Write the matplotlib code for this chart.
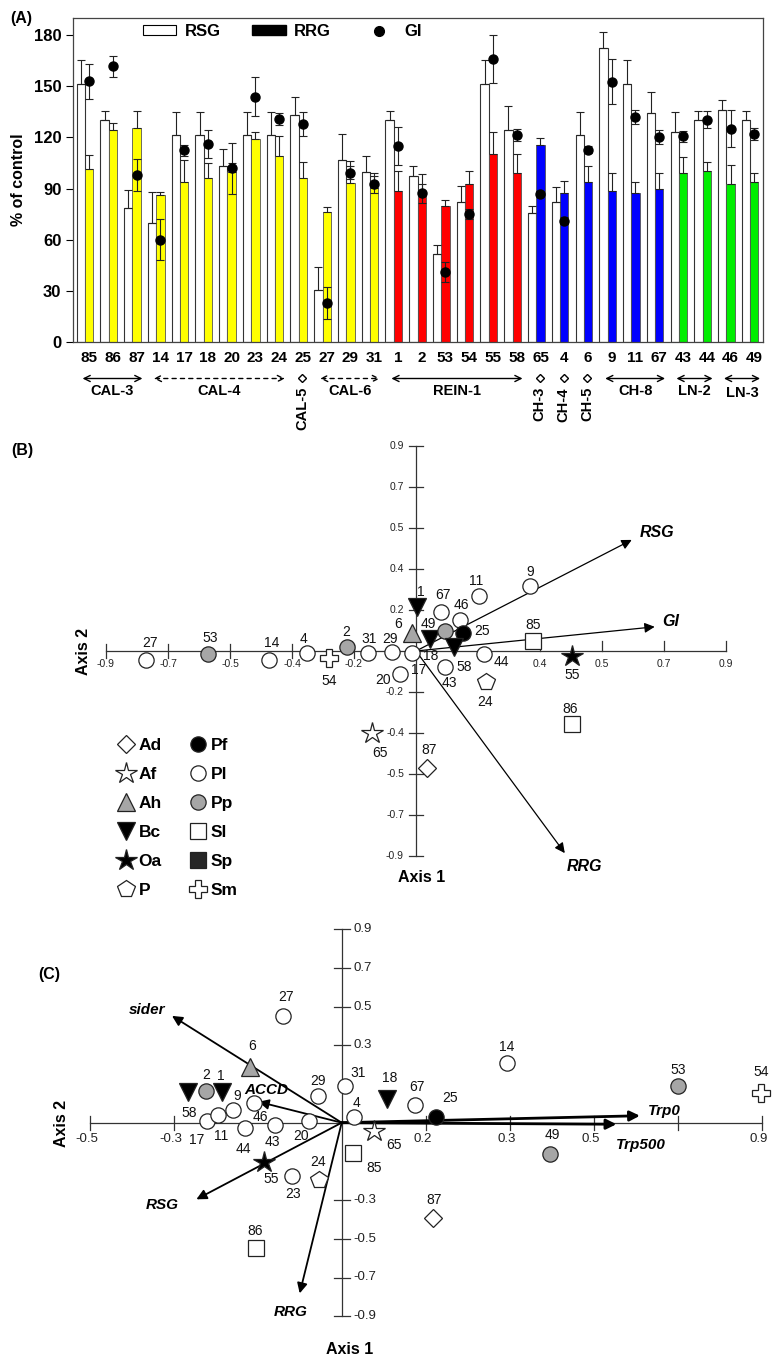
import numpy as np
import matplotlib
matplotlib.use("Agg")
import matplotlib.pyplot as plt
from matplotlib.patches import Patch
from matplotlib.lines import Line2D
from matplotlib import transforms

plt.rcParams["font.family"] = ["Liberation Sans", "DejaVu Sans"]

W, H = 780, 1368

# ---------------- panel A data ----------------
isolates = ["85", "86", "87", "14", "17", "18", "20", "23", "24", "25", "27", "29", "31",
            "1", "2", "53", "54", "55", "58", "65", "4", "6", "9", "11", "67", "43", "44", "46", "49"]
rsg = [151.6, 130, 78.8, 69.6, 121.2, 121.2, 103.3, 121.2, 121.2, 133.3, 30.4, 106.9, 99.8,
       130.4, 97.5, 51.6, 82, 151.6, 124.5, 75.5, 82, 121.2, 172.6, 151.6, 134.3,
       123, 130.4, 136.3, 130.4]
rsg_err = [13.7, 5.3, 10.4, 18.6, 13.7, 13.7, 10, 13.7, 13.7, 10.4, 13.4, 15.3, 9.4,
           4.9, 5.5, 5.3, 9.2, 13.7, 13.8, 4.5, 8.8, 13.7, 9.2, 13.7, 12.2,
           11.7, 4.9, 5.9, 4.9]
rrg = [101.4, 124.1, 125.5, 86.1, 93.7, 96.1, 99.8, 119, 109.2, 96.1, 76.1, 93.5, 90.2,
       88.6, 87.3, 79.8, 92.6, 110.2, 99, 115.3, 87.3, 93.7, 88.6, 87.3, 89.8,
       99, 100, 92.6, 93.7]
rrg_err = [8.4, 4.3, 9.8, 1.6, 12.8, 8.8, 5.2, 4.3, 11.8, 9.4, 3.3, 12.4, 8.8,
           11.4, 11.3, 3.5, 7.8, 13, 11.2, 4.3, 7.4, 9.6, 10.8, 6.4, 9.6,
           9.8, 5.5, 11.3, 5.7]
gi = [153, 161.8, 98, 59.8, 112.4, 116.1, 102, 143.9, 130.8, 127.9, 22.6, 99.4, 92.6,
      115.1, 87.3, 41.2, 74.9, 166.1, 121.6, 86.9, 71, 112.8, 152.8, 132, 120,
      120.6, 130.4, 125.1, 122]
gi_err = [10.4, 6, 9.3, 12, 3.2, 8.1, 15, 11.5, 3.4, 7.2, 9.3, 3.6, 5,
          11.1, 5.6, 5.9, 3, 14.2, 3.5, 1.5, 2, 2, 13.2, 4, 4.1,
          3, 4.9, 11, 3.4]
bar_colors = ["#ffff00"] * 13 + ["#ff0000"] * 6 + ["#0000ff"] * 6 + ["#00ee00"] * 4

# strain groups under the x axis
group_names = ["CAL-3", "CAL-4", "CAL-5", "CAL-6", "REIN-1", "CH-3", "CH-4", "CH-5",
               "CH-8", "LN-2", "LN-3"]
group_sizes = [3, 6, 1, 3, 6, 1, 1, 1, 3, 2, 2]
dashed_groups = ["CAL-4", "CAL-6"]

# ---------------- species / markers ----------------
species = {"85": "Sl", "86": "Sl", "87": "Ad", "14": "Pl", "17": "Pl", "18": "Bc", "20": "Pl",
           "23": "Pl", "24": "P", "25": "Pf", "27": "Pl", "29": "Pl", "31": "Pl", "1": "Bc",
           "2": "Pp", "53": "Pp", "54": "Sm", "55": "Oa", "58": "Bc", "65": "Af", "4": "Pl",
           "6": "Ah", "9": "Pl", "11": "Pl", "67": "Pl", "43": "Pl", "44": "Pl", "46": "Pl",
           "49": "Pp"}
legend_order = ["Ad", "Af", "Ah", "Bc", "Oa", "P", "Pf", "Pl", "Pp", "Sl", "Sp", "Sm"]

# ---------------- panel B data (positions in tick steps) ----------------
b_ids = ["27", "53", "14", "4", "54", "2", "31", "29", "20", "65", "6", "1", "17", "18",
         "49", "67", "46", "25", "11", "9", "58", "43", "44", "24", "85", "55", "86", "87"]
b_x = [-4.36, -3.35, -2.37, -1.76, -1.40, -1.12, -0.78, -0.39, -0.26, -0.71, -0.06, 0.02, -0.06,
       0.23, 0.46, 0.40, 0.71, 0.75, 1.02, 1.84, 0.61, 0.46, 1.09, 1.13, 1.88, 2.52, 2.51, 0.17]
b_y = [-0.22, -0.07, -0.22, -0.04, -0.18, 0.09, -0.06, -0.02, -0.57, -2.00, 0.45, 1.08, -0.04,
       0.29, 0.49, 0.94, 0.76, 0.43, 1.33, 1.59, 0.09, -0.38, -0.07, -0.75, 0.25, -0.11, -1.79, -2.85]
b_vec_names = ["RSG", "GI", "RRG"]
b_vec_x = [3.48, 3.85, 2.40]
b_vec_y = [2.71, 0.59, -4.93]
b_xtick_pos = [-5, -4, -3, -2, -1, 2, 3, 4, 5]
b_xtick_lab = ["-0.9", "-0.7", "-0.5", "-0.4", "-0.2", "0.4", "0.5", "0.7", "0.9"]
b_ytick_pos = [5, 4, 3, 2, 1, -1, -2, -3, -4, -5]
b_ytick_lab = ["0.9", "0.7", "0.5", "0.4", "0.2", "-0.2", "-0.4", "-0.5", "-0.7", "-0.9"]

# ---------------- panel C data (positions in tick steps) ----------------
c_ids = ["27", "6", "2", "58", "1", "9", "17", "11", "44", "46", "43", "20", "29", "31", "4",
         "65", "85", "55", "23", "24", "18", "67", "25", "14", "53", "54", "49", "86", "87"]
c_x = [-0.70, -1.09, -1.61, -1.83, -1.42, -1.29, -1.60, -1.47, -1.15, -1.04, -0.79, -0.39, -0.28,
       0.04, 0.15, 0.38, 0.13, -0.92, -0.59, -0.27, 0.54, 0.87, 1.12, 1.97, 4.00, 4.99, 2.48,
       -1.02, 1.09]
c_y = [2.76, 1.43, 0.83, 0.80, 0.80, 0.33, 0.04, 0.20, -0.13, 0.50, -0.06, 0.04, 0.70, 0.95,
       0.16, -0.21, -0.78, -1.02, -1.37, -1.48, 0.60, 0.46, 0.16, 1.55, 0.95, 0.78, -0.81,
       -3.25, -2.45]
c_vec_names = ["sider", "ACCD", "RSG", "RRG", "Trp0", "Trp500"]
c_vec_x = [-2.02, -0.99, -1.73, -0.50, 3.55, 3.27]
c_vec_y = [2.76, 0.54, -1.98, -4.41, 0.18, -0.04]
c_xtick_pos = [-3, -2, 1, 2, 3, 4, 5]
c_xtick_lab = ["-0.5", "-0.3", "0.2", "0.3", "0.5", "", "0.9"]
c_ytick_pos = [5, 4, 3, 2, -2, -3, -4, -5]
c_ytick_lab = ["0.9", "0.7", "0.5", "0.3", "-0.3", "-0.5", "-0.7", "-0.9"]

# label offsets (pixels) for the point numbers and vector names
b_lab_off = {"27": (4, 17), "53": (2, 16), "14": (3, 17), "4": (-3, 14), "54": (0, -23),
             "2": (0, 15), "31": (1, 14), "29": (-2, 13), "20": (-17, -6), "65": (8, -20),
             "6": (-14, 9), "1": (4, 15), "17": (6, -17), "18": (0, -17), "49": (-16, 7),
             "67": (2, 17), "46": (1, 15), "25": (20, 2), "11": (-3, 15), "9": (0, 14),
             "58": (10, -20), "43": (5, -16), "44": (18, -8), "24": (-1, -20), "85": (1, 16),
             "55": (0, -19), "86": (-1, 15), "87": (3, 18)}
c_lab_off = {"27": (3, 19), "6": (2, 21), "2": (0, 16), "58": (1, -21), "1": (-2, 16),
             "9": (4, 14), "17": (-11, -19), "11": (3, -21), "44": (-2, -21), "46": (6, -14),
             "43": (-3, -17), "20": (-8, -15), "29": (0, 15), "31": (13, 13), "4": (2, 14),
             "65": (20, -14), "85": (22, -15), "55": (7, -17), "23": (1, -18), "24": (-1, 18),
             "18": (3, 21), "67": (2, 18), "25": (14, 19), "14": (0, 16), "53": (0, 16),
             "54": (0, 21), "49": (2, 19), "86": (-1, 17), "87": (1, 18)}
b_vec_off = {"RSG": (25, 7), "GI": (16, 5), "RRG": (20, -13)}
c_vec_off = {"sider": (-25, 6), "ACCD": (8, 12), "RSG": (-34, -6), "RRG": (-9, -19),
             "Trp0": (24, 5), "Trp500": (24, -21)}

styles = {
    "Ad": dict(marker="D", ms=9.5, mfc="white"),
    "Af": dict(marker="*", ms=16, mfc="white"),
    "Ah": dict(marker="^", ms=13, mfc="#a6a6a6"),
    "Bc": dict(marker="v", ms=13, mfc="black"),
    "Oa": dict(marker="*", ms=16, mfc="black"),
    "P": dict(marker="p", ms=13, mfc="white"),
    "Pf": dict(marker="o", ms=11, mfc="black"),
    "Pl": dict(marker="o", ms=11, mfc="white"),
    "Pp": dict(marker="o", ms=11, mfc="#a6a6a6"),
    "Sl": dict(marker="s", ms=11.5, mfc="white"),
    "Sp": dict(marker="s", ms=11.5, mfc="#262626"),
    "Sm": dict(marker="P", ms=13, mfc="white"),
}

fig = plt.figure(figsize=(W / 100, H / 100), dpi=100)


def fx(px):
    return px / W


def fy(py):
    return 1 - py / H


# ================= panel A =================
axA = fig.add_axes([fx(73.3), fy(341.7), fx(762.7) - fx(73.3), fy(18.3) - fy(341.7)])
x = np.arange(len(isolates))
bw = 0.35
axA.bar(x - bw / 2, rsg, bw, color="white", edgecolor="#333333", linewidth=0.8, zorder=2)
axA.bar(x + bw / 2, rrg, bw, color=bar_colors, edgecolor="#555555", linewidth=0.6, zorder=2)
zeros = np.zeros(len(x))
axA.errorbar(x - bw / 2, rsg, yerr=[zeros, rsg_err], fmt="none", ecolor="#222222",
             elinewidth=0.8, capsize=3, capthick=0.8, zorder=3)
axA.errorbar(x + bw / 2, rrg, yerr=[zeros, rrg_err], fmt="none", ecolor="#222222",
             elinewidth=0.8, capsize=3, capthick=0.8, zorder=3)
axA.errorbar(x + bw / 2, gi, yerr=gi_err, fmt="o", color="black", ms=6.5,
             ecolor="#222222", elinewidth=0.8, capsize=3, capthick=0.8, zorder=4)

axA.set_xlim(-0.49, 28.53)
axA.set_ylim(0, 190)
axA.set_yticks(np.arange(0, 181, 30))
axA.set_xticks(x + bw / 2)
axA.set_xticklabels(isolates, fontsize=11, fontweight="bold")
axA.tick_params(axis="x", length=0, pad=7)
axA.tick_params(axis="y", direction="out", length=5, labelsize=12, width=0.8)
for t in axA.get_yticklabels():
    t.set_fontweight("bold")
for s in axA.spines.values():
    s.set_color("#444444")
    s.set_linewidth(0.9)
axA.set_ylabel("% of control", fontsize=11.5, fontweight="bold", labelpad=6)

handles = [Patch(facecolor="white", edgecolor="black", linewidth=0.8),
           Patch(facecolor="black", edgecolor="black"),
           Line2D([], [], marker="o", color="black", linestyle="none", ms=7)]
axA.legend(handles, ["RSG", "RRG", "GI"], ncol=3, loc="upper left",
           bbox_to_anchor=(fx(143), fy(24)), bbox_transform=fig.transFigure,
           frameon=False, prop=dict(weight="bold", size=12), handlelength=2.0,
           handleheight=0.55, handletextpad=0.5, columnspacing=1.9, borderpad=0,
           borderaxespad=0)

# group brackets under the tick labels
trans = transforms.blended_transform_factory(axA.transData, fig.transFigure)
start = 0
for name, n in zip(group_names, group_sizes):
    first, last = start, start + n - 1
    if n == 1:
        xc = first + 0.15
        axA.plot([xc], [fy(378)], marker="D", ms=4.5, mfc="white", mec="black", mew=1,
                 transform=trans, clip_on=False)
        axA.text(xc, fy(387), name, rotation=90, ha="center", va="top", fontsize=10.5,
                 fontweight="bold", transform=trans)
    else:
        x0, x1 = first - 0.1, last + 0.42
        ls = (0, (3, 3)) if name in dashed_groups else "-"
        axA.annotate("", xy=(x1, fy(378.5)), xytext=(x0, fy(378.5)), xycoords=trans,
                     textcoords=trans, annotation_clip=False,
                     arrowprops=dict(arrowstyle="<->", lw=1, linestyle=ls,
                                     mutation_scale=11, shrinkA=0, shrinkB=0))
        yl = 393 if name == "LN-3" else 391.5
        axA.text((x0 + x1) / 2, fy(yl), name, ha="center", va="center", fontsize=10.5,
                 fontweight="bold", transform=trans)
    start += n


# ================= biplot helpers =================
def biplot_axes(top, bottom, ox, oy, sx, sy):
    ax = fig.add_axes([0, fy(bottom), 1, fy(top) - fy(bottom)])
    ax.set_xlim((0 - ox) / sx, (W - ox) / sx)
    ax.set_ylim((oy - bottom) / sy, (oy - top) / sy)
    ax.axis("off")
    return ax


def draw_points(ax, ids, xs, ys, offs):
    for i, xv, yv in zip(ids, xs, ys):
        st = styles[species[i]]
        ax.plot(xv, yv, linestyle="none", mec="#222222", mew=0.9, zorder=4, **st)
        ax.annotate(i, (xv, yv), xytext=offs[i], textcoords="offset pixels",
                    ha="center", va="center", fontsize=10, color="#111111", zorder=5)


def draw_vectors(ax, names, vxs, vys, offs, fs):
    for name, vx, vy in zip(names, vxs, vys):
        lw = 2.0 if name.startswith("Trp") else (1.3 if ax is axC else 0.9)
        ax.annotate("", xy=(vx, vy), xytext=(0, 0),
                    arrowprops=dict(arrowstyle="-|>", color="black", lw=lw,
                                    mutation_scale=15, shrinkA=0, shrinkB=0), zorder=2)
        ax.annotate(name, (vx, vy), xytext=offs[name], textcoords="offset pixels",
                    ha="center", va="center", fontsize=fs, fontweight="bold",
                    fontstyle="italic", zorder=6)


# ================= panel B =================
sxB, syB = 62, 41
axB = biplot_axes(430, 905, 416, 651, sxB, syB)
axC = None
axB.plot([-5, 5], [0, 0], color="#333333", lw=0.9, zorder=1)
axB.plot([0, 0], [-5, 5], color="#333333", lw=0.9, zorder=1)
for p, lab in zip(b_xtick_pos, b_xtick_lab):
    if p < 0:
        axB.plot([p, p], [-7 / syB, 7 / syB], color="#333333", lw=0.9)
    else:
        axB.plot([p, p], [0, 10 / syB], color="#333333", lw=0.9)
    axB.text(p, -13 / syB, lab, ha="center", va="center", fontsize=7.5, color="#222222")
for p, lab in zip(b_ytick_pos, b_ytick_lab):
    axB.plot([-7 / sxB, 7 / sxB], [p, p], color="#333333", lw=0.9)
    axB.text(-12 / sxB, p, lab, ha="right", va="center", fontsize=7.5, color="#222222")

draw_vectors(axB, b_vec_names, b_vec_x, b_vec_y, b_vec_off, 11.5)
draw_points(axB, b_ids, b_x, b_y, b_lab_off)

axB.text(-5.37, 0, "Axis 2", rotation=90, ha="center", va="center", fontsize=11.5,
         fontweight="bold")
axB.text(0.09, -5.53, "Axis 1", ha="center", va="center", fontsize=11.5, fontweight="bold")

leg_handles = [Line2D([], [], linestyle="none", mec="#222222", mew=0.9, **styles[s])
               for s in legend_order]
axB.legend(leg_handles, legend_order, ncol=2, loc="upper left",
           bbox_to_anchor=(fx(117), fy(738)), bbox_transform=fig.transFigure,
           frameon=False, prop=dict(weight="bold", size=12.5), handlelength=1.0,
           handletextpad=0.25, labelspacing=0.8, columnspacing=1.55, borderpad=0,
           borderaxespad=0)

# ================= panel C =================
sxC, syC = 84, 38.7
axC = biplot_axes(905, 1368, 341.7, 1122.7, sxC, syC)
axC.plot([-3, 5], [0, 0], color="#333333", lw=0.9, zorder=1)
axC.plot([0, 0], [-5, 5], color="#333333", lw=0.9, zorder=1)
for p, lab in zip(c_xtick_pos, c_xtick_lab):
    axC.plot([p, p], [-7 / syC, 7 / syC], color="#333333", lw=0.9)
    axC.text(p - 3 / sxC, -16 / syC, lab, ha="center", va="center", fontsize=9.5,
             color="#222222")
for p, lab in zip(c_ytick_pos, c_ytick_lab):
    axC.plot([-8 / sxC, 8 / sxC], [p, p], color="#333333", lw=0.9)
    axC.text(12 / sxC, p, lab, ha="left", va="center", fontsize=9.5, color="#222222")

draw_vectors(axC, c_vec_names, c_vec_x, c_vec_y, c_vec_off, 11)
draw_points(axC, c_ids, c_x, c_y, c_lab_off)

axC.text(-3.33, -0.02, "Axis 2", rotation=90, ha="center", va="center", fontsize=11.5,
         fontweight="bold")
axC.text(0.10, -5.87, "Axis 1", ha="center", va="center", fontsize=11.5, fontweight="bold")

# panel letters
fig.text(fx(21), fy(18), "(A)", ha="center", va="center", fontsize=11.5, fontweight="bold")
fig.text(fx(22), fy(450), "(B)", ha="center", va="center", fontsize=11.5, fontweight="bold")
fig.text(fx(49), fy(975), "(C)", ha="center", va="center", fontsize=11.5, fontweight="bold")

fig.savefig("out.png", dpi=100)
